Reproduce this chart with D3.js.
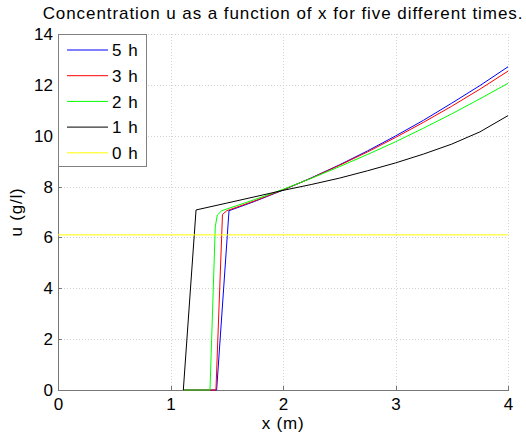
<!DOCTYPE html>
<html>
<head>
<meta charset="utf-8">
<script src="https://cdn.jsdelivr.net/npm/d3@7"></script>
<style>
  html, body { margin: 0; padding: 0; background: #fff; }
  svg { display: block; font-family: "Liberation Sans", Arial, Helvetica, sans-serif; }
</style>
</head>
<body>
<svg id="chart" width="526" height="442"></svg>
<script>
// Concentration profiles u(x) at five times
const seriesNames = ["5 h", "3 h", "2 h", "1 h", "0 h"];
const seriesColors = ["#0000ff", "#ff0000", "#00ff00", "#000000", "#ffff00"];

const x5h = [1.114, 1.41, 1.52, 1.75, 2.0, 2.25, 2.5, 2.75, 3.0, 3.25, 3.5, 3.75, 4.0];
const u5h = [0, 0, 7.05, 7.42, 7.86, 8.34, 8.85, 9.40, 9.99, 10.61, 11.28, 11.97, 12.71];

const x3h = [1.114, 1.404, 1.462, 1.50, 1.75, 2.0, 2.25, 2.5, 2.75, 3.0, 3.25, 3.5, 3.75, 4.0];
const u3h = [0, 0, 6.90, 7.05, 7.44, 7.87, 8.33, 8.83, 9.36, 9.93, 10.53, 11.16, 11.83, 12.54];

const x2h = [1.114, 1.351, 1.398, 1.416, 1.455, 1.75, 2.0, 2.25, 2.5, 2.75, 3.0, 3.25, 3.5, 3.75, 4.0];
const u2h = [0, 0, 6.42, 6.88, 7.05, 7.49, 7.89, 8.32, 8.78, 9.26, 9.76, 10.30, 10.86, 11.45, 12.06];

const x1h = [1.114, 1.227, 1.5, 1.75, 2.0, 2.25, 2.5, 2.75, 3.0, 3.25, 3.5, 3.75, 4.0];
const u1h = [0, 7.08, 7.35, 7.60, 7.85, 8.08, 8.33, 8.62, 8.93, 9.28, 9.67, 10.15, 10.79];

const x0h = [0, 4];
const u0h = [6.1, 6.1];

const xTicks = [0, 1, 2, 3, 4];
const yTicks = [0, 2, 4, 6, 8, 10, 12, 14];

const seriesX = [x5h, x3h, x2h, x1h, x0h];
const seriesU = [u5h, u3h, u2h, u1h, u0h];

const svg = d3.select("#chart");
const plotLeft = 58, plotRight = 508, plotTop = 34, plotBottom = 390;

const x = d3.scaleLinear().domain([0, 4]).range([plotLeft, plotRight]);
const y = d3.scaleLinear().domain([0, 14]).range([plotBottom, plotTop]);

// dotted grid
const grid = svg.append("g");
grid.selectAll("line.gx").data(xTicks.slice(1)).join("line")
  .attr("x1", d => Math.round(x(d)) + 0.5).attr("x2", d => Math.round(x(d)) + 0.5)
  .attr("y1", plotTop).attr("y2", plotBottom)
  .attr("stroke", "#d2d2d2").attr("stroke-width", 1).attr("stroke-dasharray", "1,2");
grid.selectAll("line.gy").data(yTicks.slice(1)).join("line")
  .attr("y1", d => Math.round(y(d)) + 0.5).attr("y2", d => Math.round(y(d)) + 0.5)
  .attr("x1", plotLeft).attr("x2", plotRight)
  .attr("stroke", "#d2d2d2").attr("stroke-width", 1).attr("stroke-dasharray", "1,2");

// axes
const fmt = d3.format("d");
const xAxis = d3.axisBottom(x).tickValues(xTicks).tickFormat(fmt)
  .tickSizeInner(-4).tickSizeOuter(0).tickPadding(8);
const yAxis = d3.axisLeft(y).tickValues(yTicks).tickFormat(fmt)
  .tickSizeInner(-4).tickSizeOuter(0).tickPadding(5);

const gx = svg.append("g").attr("transform", `translate(0,${plotBottom})`).call(xAxis);
const gy = svg.append("g").attr("transform", `translate(${plotLeft},0)`).call(yAxis);
[gx, gy].forEach(g => {
  g.select(".domain").attr("stroke", "#777").attr("shape-rendering", "crispEdges");
  g.selectAll(".tick line").attr("stroke", "#777").attr("shape-rendering", "crispEdges");
  g.selectAll(".tick text").attr("fill", "#000").attr("font-size", 17)
    .attr("font-family", "Liberation Sans, Arial, sans-serif");
});
gx.selectAll(".tick text").attr("dy", "0.71em");

// curves
const line = d3.line().x(d => x(d[0])).y(d => y(d[1]));
const curves = svg.append("g");
seriesX.forEach((xs, i) => {
  const pts = xs.map((v, j) => [v, seriesU[i][j]]);
  curves.append("path").datum(pts)
    .attr("d", line)
    .attr("fill", "none")
    .attr("stroke", seriesColors[i])
    .attr("stroke-width", 1);
});

// titles
svg.append("text").attr("x", 283).attr("y", 19).attr("text-anchor", "middle")
  .attr("font-size", 17).attr("letter-spacing", 0.93)
  .text("Concentration u as a function of x for five different times.");
svg.append("text").attr("x", (plotLeft + plotRight) / 2).attr("y", 428.5).attr("text-anchor", "middle")
  .attr("font-size", 17).attr("letter-spacing", 0.8).text("x (m)");
svg.append("text").attr("transform", `translate(22,${(plotTop + plotBottom) / 2}) rotate(-90)`)
  .attr("text-anchor", "middle").attr("font-size", 17).attr("letter-spacing", 0.8).text("u (g/l)");

// legend
const lg = svg.append("g");
lg.append("rect").attr("x", 58.5).attr("y", 34.5).attr("width", 88).attr("height", 132)
  .attr("fill", "#fff").attr("stroke", "#808080").attr("stroke-width", 1);
seriesNames.forEach((name, i) => {
  const yy = 50 + i * 25.7;
  lg.append("line").attr("x1", 67).attr("x2", 108).attr("y1", yy).attr("y2", yy)
    .attr("stroke", seriesColors[i]).attr("stroke-width", 1);
  lg.append("text").attr("x", 112).attr("y", yy).attr("dy", "0.36em")
    .attr("font-size", 17).attr("letter-spacing", 1).text(name);
});
</script>
</body>
</html>
